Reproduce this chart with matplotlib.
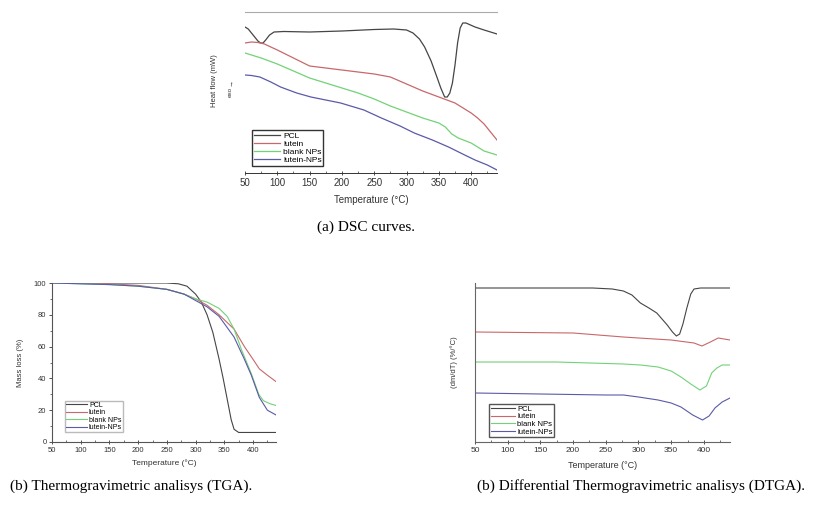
import numpy as np
import matplotlib
matplotlib.use("Agg")
import matplotlib.pyplot as plt
from matplotlib.ticker import MultipleLocator

plt.rcParams['font.family'] = ['Liberation Sans', 'DejaVu Sans']

labels = ['PCL', 'lutein', 'blank NPs', 'lutein-NPs']
colors = ['#454545', '#c8686a', '#72d277', '#5a5aa8']

# ---- DSC (heat flow, arbitrary units, exo up)
dsc_T = {
    'PCL': [50, 55, 60, 65, 70, 74, 78, 82, 88, 95, 110, 150, 200, 250, 280, 300, 310, 320, 328, 338, 347,
            353, 359, 363, 367, 371, 375, 379, 383, 387, 392, 406, 420, 440],
    'lutein': [50, 60, 70, 80, 100, 125, 150, 175, 200, 225, 250, 275, 300, 325, 350, 375, 400, 410, 415, 420, 430, 440],
    'blank NPs': [50, 60, 75, 100, 125, 150, 175, 200, 225, 250, 275, 300, 325, 350, 360, 370, 380, 400, 410, 420, 430, 440],
    'lutein-NPs': [50, 60, 73, 90, 105, 130, 152, 175, 198, 234, 261, 290, 312, 340, 365, 390, 406, 425, 440],
}
dsc_hf = {
    'PCL': [146, 144, 140, 136, 132, 130, 130, 133, 138, 141, 141.5, 141, 142, 143.5, 144, 143, 140, 134, 126, 112, 96,
            85, 76, 76, 80, 90, 108, 130, 145, 150, 150, 146, 143, 139],
    'lutein': [130, 131, 130.5, 129, 123, 115, 107, 105, 103, 101, 99, 96, 89, 82, 76, 70, 60, 55, 52, 49, 41, 33],
    'blank NPs': [120, 118, 115, 109, 102, 95, 90, 85, 80, 74, 67, 61, 55, 50, 46, 39, 35, 30, 26, 22, 20, 18],
    'lutein-NPs': [98, 97.5, 96, 91, 86, 80, 76, 73, 70, 63, 55, 47, 40, 33, 26, 18, 13, 8, 3],
}

# ---- TGA (mass %)
tga_T = {
    'PCL': [50, 100, 200, 250, 270, 285, 300, 310, 320, 330, 341, 348, 355, 362, 367, 375, 400, 440],
    'lutein': [50, 150, 200, 250, 280, 300, 320, 341, 367, 385, 400, 411, 425, 440],
    'blank NPs': [50, 150, 200, 250, 280, 300, 320, 341, 355, 367, 380, 397, 410, 418, 430, 440],
    'lutein-NPs': [50, 150, 200, 250, 280, 300, 320, 341, 367, 385, 397, 411, 425, 440],
}
tga_m = {
    'PCL': [100, 100, 100, 100, 99.5, 98, 93, 88, 80, 69, 52, 40, 27, 14, 8, 6, 6, 6],
    'lutein': [100, 99.5, 98.5, 96, 93, 90, 86, 80, 71, 60, 52, 46, 42, 38],
    'blank NPs': [100, 99, 98, 96, 93, 90, 88, 84, 79, 71, 58, 43, 30, 26, 24, 23],
    'lutein-NPs': [100, 99, 98, 96, 93, 89, 85, 79, 66, 52, 42, 28, 20, 17],
}

# ---- DTGA (dm/dT, arbitrary offset units)
dtga_T = {
    'PCL': [50, 230, 260, 277, 290, 303, 316, 328, 344, 352, 358, 363, 368, 374, 380, 385, 395, 440],
    'lutein': [50, 200, 277, 300, 350, 385, 397, 410, 422, 440],
    'blank NPs': [50, 175, 277, 303, 330, 350, 365, 380, 394, 404, 412, 420, 428, 440],
    'lutein-NPs': [50, 250, 277, 300, 330, 350, 365, 383, 398, 408, 417, 428, 440],
}
dtga_v = {
    'PCL': [154, 154, 153, 151, 147, 139, 134, 129, 117, 110, 106, 108, 118, 134, 148, 153, 154, 154],
    'lutein': [110, 109, 105, 104, 102, 99, 96, 100, 104, 102],
    'blank NPs': [80, 80, 78, 77, 75, 71, 65, 58, 52, 56, 69, 74, 77, 77],
    'lutein-NPs': [49, 47, 47, 45, 42, 39, 35, 27, 22, 26, 34, 40, 44],
}

W, H = 819, 507
fig = plt.figure(figsize=(W / 100, H / 100), dpi=100)

def px_axes(l, r, t, b):
    return fig.add_axes([l / W, 1 - b / H, (r - l) / W, (b - t) / H])

def style_x(ax, fs):
    ax.set_xlim(50, 440)
    ax.xaxis.set_major_locator(MultipleLocator(50))
    ax.xaxis.set_minor_locator(MultipleLocator(25))
    ax.tick_params(axis='x', which='major', direction='inout', length=3, width=0.6, labelsize=fs, pad=2, colors='#333333')
    ax.tick_params(axis='x', which='minor', direction='in', length=1.5, width=0.5, colors='#333333')

# DSC
ax1 = px_axes(245, 497, 12, 173)
for lab, c in zip(labels, colors):
    ax1.plot(dsc_T[lab], dsc_hf[lab], color=c, lw=0.9, label=lab)
ax1.set_ylim(0, 161)
style_x(ax1, 7)
ax1.set_yticks([])
for s in ['left', 'right']:
    ax1.spines[s].set_visible(False)
ax1.spines['top'].set_color('#aaaaaa')
ax1.spines['bottom'].set_color('#333333')
ax1.spines['bottom'].set_linewidth(0.7)
ax1.set_xlabel('Temperature (°C)', fontsize=7, labelpad=5, color='#333333')
fig.text(215 / W, 1 - 81 / H, 'Heat flow (mW)', rotation=90, fontsize=5.5, ha='center', va='center', color='#333333')
fig.text(230 / W, 1 - 92 / H, 'exo', rotation=90, fontsize=4.5, ha='center', va='center', color='#333333')
fig.text(230 / W, 1 - 83 / H, '\u2192', rotation=90, fontsize=5, ha='center', va='center', color='#333333')
ax1.legend(loc='lower left', bbox_to_anchor=(0.028, 0.043), borderaxespad=0, fontsize=6,
           handlelength=3.2, handletextpad=0.3, labelspacing=0.05, borderpad=0.2,
           fancybox=False, edgecolor='#333333', framealpha=1)

# TGA
ax2 = px_axes(52, 276, 283, 442)
for lab, c in zip(labels, colors):
    ax2.plot(tga_T[lab], tga_m[lab], color=c, lw=0.8, label=lab)
ax2.set_ylim(0, 100)
style_x(ax2, 5.5)
ax2.yaxis.set_major_locator(MultipleLocator(20))
ax2.yaxis.set_minor_locator(MultipleLocator(10))
ax2.tick_params(axis='y', which='major', direction='out', length=2.5, width=0.6, labelsize=5.5, pad=1.5, colors='#333333')
ax2.tick_params(axis='y', which='minor', direction='out', length=1.3, width=0.5, colors='#333333')
for s in ['top', 'right']:
    ax2.spines[s].set_visible(False)
for s in ['left', 'bottom']:
    ax2.spines[s].set_color('#555555')
    ax2.spines[s].set_linewidth(0.8)
ax2.set_xlabel('Temperature (°C)', fontsize=6, labelpad=4, color='#333333')
ax2.set_ylabel('Mass loss (%)', fontsize=5.5, labelpad=7, color='#333333')
ax2.legend(loc='lower left', bbox_to_anchor=(0.058, 0.063), borderaxespad=0, fontsize=5,
           handlelength=3.0, handletextpad=0.3, labelspacing=0.05, borderpad=0.15,
           fancybox=False, edgecolor='#bbbbbb', framealpha=1)

# DTGA
ax3 = px_axes(475, 730, 283, 442)
for lab, c in zip(labels, colors):
    ax3.plot(dtga_T[lab], dtga_v[lab], color=c, lw=0.8, label=lab)
ax3.set_ylim(0, 159)
style_x(ax3, 6)
ax3.set_yticks([])
for s in ['top', 'right']:
    ax3.spines[s].set_visible(False)
for s in ['left', 'bottom']:
    ax3.spines[s].set_color('#666666')
    ax3.spines[s].set_linewidth(0.8)
ax3.set_xlabel('Temperature (°C)', fontsize=6.5, labelpad=5, color='#333333')
ax3.set_ylabel('(dm/dT) (%/°C)', fontsize=5.5, labelpad=12, color='#333333')
ax3.legend(loc='lower left', bbox_to_anchor=(0.055, 0.03), borderaxespad=0, fontsize=5.5,
           handlelength=3.2, handletextpad=0.3, labelspacing=0.05, borderpad=0.2,
           fancybox=False, edgecolor='#555555', framealpha=1)

# captions
cap = dict(fontsize=11, family=['Liberation Serif', 'DejaVu Serif'], ha='center', va='center')
fig.text(366 / W, 1 - 227 / H, '(a) DSC curves.', **cap)
fig.text(131 / W, 1 - 486 / H, '(b) Thermogravimetric analisys (TGA).', **cap)
fig.text(641 / W, 1 - 486 / H, '(b) Differential Thermogravimetric analisys (DTGA).', **cap)

fig.savefig('out.png', dpi=100)
